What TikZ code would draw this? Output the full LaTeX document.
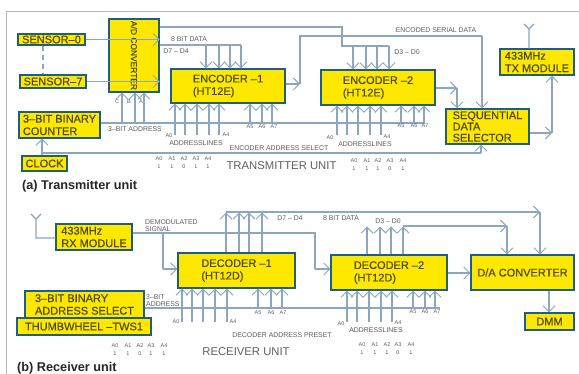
\documentclass[tikz,border=0pt]{standalone}
\usepackage{fontspec}
\setmainfont{Liberation Sans}
\newfontfamily\boxfont[FakeBold=0.5]{Liberation Sans}
\usetikzlibrary{arrows.meta}
\definecolor{boxfill}{HTML}{FFE800}
\definecolor{boxline}{HTML}{1E5F7E}
\definecolor{wirecol}{HTML}{8BA6BE}
\definecolor{boxtext}{HTML}{4F4A1E}
\definecolor{labtext}{HTML}{5E5E5E}
\definecolor{framecol}{HTML}{B4B8BC}
\tikzset{
  blockbox/.style={draw=boxline,fill=boxfill,line width=1.3pt,inner sep=0pt,align=left,text=boxtext,font=\boxfont\fontsize{11}{12.5}\selectfont,anchor=center},
  wire/.style={draw=wirecol,line width=1.15pt},
  arr/.style={wire,-{Straight Barb[length=6pt,width=12pt,line width=0.9pt]}},
  lab/.style={inner sep=0pt,text=labtext,font=\fontsize{6.9}{7.5}\selectfont,align=left},
  addr/.style={inner sep=0pt,text=labtext,font=\fontsize{5.5}{6.5}\selectfont},
  biglab/.style={inner sep=0pt,text=labtext,font=\fontsize{11.3}{13}\selectfont},
  caption/.style={inner sep=0pt,anchor=west,text=black!85,font=\fontsize{12.7}{14}\selectfont\bfseries},
}
\begin{document}
\begin{tikzpicture}[x=1pt,y=-1pt]
\useasboundingbox (0,0) rectangle (579,374);
\fill[white] (0,0) rectangle (579,374);
\draw[framecol,line width=0.8pt] (579,11.5) -- (6.5,11.5) -- (6.5,374);

% ---------- transmitter blocks
\node[blockbox,minimum width=67pt,minimum height=11pt] (s0) at (51.5,39.5) {SENSOR–0};
\node[blockbox,minimum width=66pt,minimum height=13pt] (s7) at (53,81.5) {SENSOR–7};
\node[blockbox,minimum width=73pt,minimum height=50pt,rotate=-90,font=\boxfont\fontsize{8.4}{10}\selectfont] (adc) at (134,55.5) {A/D CONVERTER};
\node[blockbox,minimum width=114pt,minimum height=34pt] (enc1) at (228,86) {ENCODER –1\\(HT12E)};
\node[blockbox,minimum width=114pt,minimum height=35pt] (enc2) at (378,87.5) {ENCODER –2\\(HT12E)};
\node[blockbox,minimum width=81pt,minimum height=26pt] (cnt) at (59.5,125) {3–BIT BINARY\\COUNTER};
\node[blockbox,minimum width=45pt,minimum height=15pt] (clk) at (44.5,163.5) {CLOCK};
\node[blockbox,minimum width=83pt,minimum height=35pt,font=\boxfont\fontsize{11}{11.2}\selectfont] (seq) at (487.5,126.5) {SEQUENTIAL\\DATA\\SELECTOR};
\node[blockbox,minimum width=74pt,minimum height=26pt] (tx) at (537,62) {433MHz\\TX MODULE};

% ---------- transmitter connectors
\coordinate (dtop) at (43,46);
\coordinate (dbot) at (43,74);
\draw[wire,dash pattern=on 5pt off 4pt] (dtop) -- (dbot);
\draw[arr] (s0.east) -- (s0.east -| adc.north);
\draw[arr] (s7.east) -- (s7.east -| adc.north);

% 8-bit data bus, D7-D4
\coordinate (busA) at (241,45);
\draw[wire] (adc.north |- busA) -- (busA);
\foreach \x in {206,219,230,241} \draw[arr] (\x,45) -- (\x,45 |- enc1.north);
% D3-D0 bus
\coordinate (busB1) at (342,27);
\coordinate (busB2) at (342,46);
\coordinate (busB3) at (389,46);
\draw[wire] (adc.north |- busB1) -- (busB1) -- (busB2) -- (busB3);
\foreach \x in {353,366,377,389} \draw[arr] (\x,46) -- (\x,46 |- enc2.north);

% 3-bit address bus
\coordinate (addrT) at (425,123);
\draw[wire] (cnt.east |- addrT) -- (addrT);
\foreach \x in {122,135,144} \draw[arr] (\x,123) -- (\x,123 |- adc.east);
\foreach \x in {175,185,197,209,219} \draw[arr] (\x,135) -- (\x,135 |- enc1.south);
\foreach \x in {250,262,272} \draw[arr] (\x,123) -- (\x,123 |- enc1.south);
\foreach \x in {337,347,358,370,381} \draw[arr] (\x,135) -- (\x,135 |- enc2.south);
\foreach \x in {401,414,424} \draw[arr] (\x,123) -- (\x,123 |- enc2.south);

% encoder outputs
\coordinate (ser1) at (300,84);
\coordinate (ser2) at (300,36);
\coordinate (ser3) at (482,36);
\draw[arr] (enc1.east |- ser1) -- (ser1);
\draw[wire] (ser1) -- (ser2) -- (ser3);
\draw[arr] (ser3) -- (ser3 |- seq.north);
\coordinate (e2o) at (457,88);
\draw[arr] (enc2.east |- e2o) -- (e2o);
\draw[arr] (e2o) -- (e2o |- seq.north);

% selector to TX
\coordinate (so) at (552,133);
\draw[arr] (seq.east |- so) -- (so);
\draw[arr] (so) -- (so |- tx.south);

% clock
\coordinate (ck) at (42,153);
\coordinate (sel) at (481,153);
\draw[arr] (clk.north -| ck) -- (ck |- cnt.south);
\draw[wire] (ck) -- (sel);
\draw[arr] (sel) -- (sel |- seq.south);

% TX antenna
\coordinate (txa) at (529,29);
\coordinate (txl) at (524,24);
\coordinate (txr) at (534,24);
\draw[wire] (tx.north -| txa) -- (txa) -- (txl) (txa) -- (txr);

% ---------- transmitter labels
\node[lab] (t1) at (189,39) {8 BIT DATA};
\node[lab] (t2) at (176,51) {D7 – D4};
\node[addr] (t3) at (117,102) {C};
\node[addr] (t4) at (129,102) {B};
\node[addr] (t5) at (141,102) {A};
\node[lab] (t6) at (135,129) {3–BIT ADDRESS};
\node[addr] (t7) at (169,136) {A0};
\node[addr] (t8) at (226,135) {A4};
\node[lab] (t9) at (196,143) {ADDRESSLINES};
\foreach \x/\t in {250/A5,262/A6,274/A7} \node[addr] (ta\t) at (\x,127) {\t};
\node[lab] (t10) at (279,148) {ENCODER ADDRESS SELECT};
\foreach \x/\t/\d in {159/A0/1,172/A1/1,184/A2/0,196/A3/1,208/A4/1} {
  \node[addr] (tb\t) at (\x,159) {\t};
  \node[addr] (tc\t) at (\x,167) {\d};
}
\node[biglab] (t11) at (281.5,166) {TRANSMITTER UNIT};
\node[lab] (t12) at (436,30) {ENCODED SERIAL DATA};
\node[lab] (t13) at (407,52) {D3 – D0};
\foreach \x/\t in {401/A5,414/A6,425/A7} \node[addr] (td\t) at (\x,126) {\t};
\node[addr] (t14) at (330,138) {A0};
\node[addr] (t15) at (387,137) {A4};
\node[lab] (t16) at (365,144) {ADDRESSLINES};
\foreach \x/\t/\d in {354/A0/1,367/A1/1,378/A2/1,390/A3/0,403/A4/1} {
  \node[addr] (te\t) at (\x,161) {\t};
  \node[addr] (tf\t) at (\x,169) {\d};
}
\node[caption] (capa) at (22,186) {(a) Transmitter unit};

% ---------- receiver blocks
\node[blockbox,minimum width=76pt,minimum height=26pt] (rx) at (94,237) {433MHz\\RX MODULE};
\node[blockbox,minimum width=117pt,minimum height=35pt] (dec1) at (236.5,270.5) {DECODER –1\\(HT12D)};
\node[blockbox,minimum width=116pt,minimum height=35pt] (dec2) at (389,272.5) {DECODER –2\\(HT12D)};
\node[blockbox,minimum width=103pt,minimum height=35pt] (dac) at (522.5,272.5) {D/A CONVERTER};
\node[blockbox,minimum width=49pt,minimum height=17pt] (dmm) at (549.5,321.5) {DMM};
\node[blockbox,minimum width=119pt,minimum height=27pt] (sel3) at (84.5,304.5) {3–BIT BINARY\\ADDRESS SELECT};
\node[blockbox,minimum width=134pt,minimum height=17pt] (tw) at (84,326.5) {THUMBWHEEL –TWS1};

% ---------- receiver connectors
\coordinate (rxa) at (36,219);
\coordinate (rxl) at (31,214);
\coordinate (rxr) at (41,214);
\coordinate (rxb) at (36,238);
\draw[wire] (rx.west |- rxb) -- (rxb) -- (rxa) -- (rxl) (rxa) -- (rxr);

\coordinate (dm1) at (163,233);
\coordinate (dm2) at (315,233);
\coordinate (dm3) at (315,269);
\coordinate (dm4) at (163,269);
\draw[wire] (rx.east |- dm1) -- (dm2) -- (dm3);
\draw[arr] (dm3) -- (dm3 -| dec2.west);
\draw[wire] (dm1) -- (dm4);
\draw[arr] (dm4) -- (dm4 -| dec1.west);

\foreach \x in {226,239,249,262} \draw[arr] (\x,0 |- dec1.north) -- (\x,212.5);
\coordinate (b1a) at (226,212);
\coordinate (b1b) at (540,212);
\draw[arr] (b1a) -- (b1b);
\draw[arr] (b1b) -- (b1b |- dac.north);

\foreach \x in {367,380,391,403} \draw[arr] (\x,0 |- dec2.north) -- (\x,226.5);
\coordinate (b2a) at (403,226);
\coordinate (b2b) at (507,226);
\draw[arr] (b2a) -- (b2b);
\draw[arr] (b2b) -- (b2b |- dac.north);

\coordinate (dd) at (0,273);
\draw[arr] (dec2.east |- dd) -- (dac.west |- dd);
\coordinate (dm) at (549,0);
\draw[arr] (dac.south -| dm) -- (dmm.north -| dm);

\coordinate (pr) at (440,308);
\draw[wire] (sel3.east |- pr) -- (pr);
\foreach \x in {182,192,203,215,227} \draw[arr] (\x,322) -- (\x,322 |- dec1.south);
\foreach \x in {258,271,282} \draw[arr] (\x,308) -- (\x,308 |- dec1.south);
\foreach \x in {347,357,369,381,392} \draw[arr] (\x,322) -- (\x,322 |- dec2.south);
\foreach \x in {413,425,435} \draw[arr] (\x,308) -- (\x,308 |- dec2.south);

% ---------- receiver labels
\node[lab,anchor=west] (r1) at (145,222) {DEMODULATED};
\node[lab,anchor=west] (r2) at (145,229) {SIGNAL};
\node[lab,anchor=west] (r3) at (146,297) {3–BIT};
\node[lab,anchor=west] (r4) at (146,304) {ADDRESS};
\node[addr] (r5) at (176,322) {A0};
\node[addr] (r6) at (233,322) {A4};
\foreach \x/\t in {258/A5,271/A6,283/A7} \node[addr] (rb\t) at (\x,313) {\t};
\node[lab] (r7) at (282,335) {DECODER ADDRESS PRESET};
\foreach \x/\t/\d in {115/A0/1,128/A1/1,140/A2/0,151/A3/1,164/A4/1} {
  \node[addr] (rc\t) at (\x,346) {\t};
  \node[addr] (rd\t) at (\x,354) {\d};
}
\node[biglab] (r8) at (246,352) {RECEIVER UNIT};
\node[lab] (r9) at (290,218) {D7 – D4};
\node[lab] (r10) at (341,218) {8 BIT DATA};
\node[lab] (r11) at (388,221) {D3 – D0};
\node[addr] (r12) at (341,324) {A0};
\node[addr] (r13) at (398,323) {A4};
\node[lab] (r14) at (376,330) {ADDRESSLINES};
\foreach \x/\t in {413/A5,425/A6,437/A7} \node[addr] (re\t) at (\x,312) {\t};
\foreach \x/\t/\d in {362/A0/1,375/A1/1,387/A2/1,398/A3/0,411/A4/1} {
  \node[addr] (rf\t) at (\x,345) {\t};
  \node[addr] (rg\t) at (\x,353) {\d};
}
\node[caption] (capb) at (17,368) {(b) Receiver unit};
\end{tikzpicture}
\end{document}
